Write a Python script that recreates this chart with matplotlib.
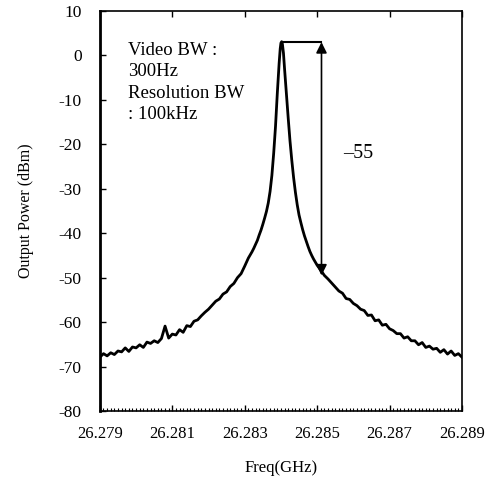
import matplotlib
import numpy as np
from matplotlib import pyplot as plt
from matplotlib.ticker import MultipleLocator, FormatStrFormatter

matplotlib.rc('font', family=['Liberation Serif', 'DejaVu Serif'], size=11)
plt.rcParams['axes.unicode_minus'] = False

# trace
# frequency offset in MHz from 26.279 GHz
offset_mhz = [
    0.0, 0.1, 0.2, 0.3, 0.4, 0.5, 0.6, 0.7, 0.8, 0.9,
    1.0, 1.1, 1.2, 1.3, 1.4, 1.5, 1.6, 1.7, 1.8, 1.9,
    2.0, 2.1, 2.2, 2.3, 2.4, 2.5, 2.6, 2.7, 2.8, 2.9,
    3.0, 3.1, 3.2, 3.3, 3.4, 3.5, 3.6, 3.7, 3.8, 3.9,
    4.0, 4.05, 4.1, 4.15, 4.2, 4.25, 4.3, 4.35, 4.4, 4.45,
    4.5, 4.55, 4.6, 4.65, 4.7, 4.75, 4.8, 4.85, 4.9, 4.95,
    4.98, 5.0, 5.02, 5.04, 5.07, 5.1, 5.15, 5.2, 5.25, 5.3,
    5.35, 5.4, 5.45, 5.5, 5.55, 5.6, 5.65, 5.7, 5.75, 5.8,
    5.85, 5.9, 5.95, 6.0, 6.1, 6.2, 6.3, 6.4, 6.5, 6.6,
    6.7, 6.8, 6.9, 7.0, 7.1, 7.2, 7.3, 7.4, 7.5, 7.6,
    7.7, 7.8, 7.9, 8.0, 8.1, 8.2, 8.3, 8.4, 8.5, 8.6,
    8.7, 8.8, 8.9, 9.0, 9.1, 9.2, 9.3, 9.4, 9.5, 9.6,
    9.7, 9.8, 9.9, 10.0,
]
power_dbm = [
    -67.9, -67.1, -67.6, -66.9, -67.3, -66.5, -66.7, -65.8, -66.6, -65.6,
    -65.8, -65.1, -65.7, -64.5, -64.8, -64.2, -64.6, -63.7, -60.9, -63.6,
    -62.7, -62.9, -61.7, -62.3, -60.8, -61.0, -59.8, -59.5, -58.6, -57.8,
    -57.1, -56.2, -55.3, -54.8, -53.7, -53.2, -52.0, -51.3, -50.0, -49.1,
    -47.4, -46.5, -45.6, -44.9, -44.2, -43.4, -42.5, -41.6, -40.4, -39.3,
    -38.0, -36.6, -35.1, -33.2, -30.6, -27.0, -22.0, -16.0, -8.5, -1.8,
    1.5, 2.8, 3.1, 2.6, 0.5, -3.0, -8.5, -14.0, -19.2, -23.6,
    -27.5, -30.8, -33.6, -35.9, -37.6, -39.2, -40.6, -41.8, -43.0, -44.1,
    -45.0, -45.8, -46.5, -47.2, -48.3, -49.5, -50.3, -51.2, -52.1, -53.0,
    -53.5, -54.7, -54.9, -55.8, -56.3, -57.1, -57.4, -58.5, -58.4, -59.7,
    -59.5, -60.7, -60.5, -61.5, -61.9, -62.6, -62.6, -63.6, -63.3, -64.2,
    -64.2, -65.1, -64.6, -65.7, -65.4, -66.1, -65.9, -66.8, -66.2, -67.2,
    -66.5, -67.5, -67.1, -67.9,
]

peak_freq = 26.28402
peak_level = 3.0
marker_freq = 26.28512
marker_level = -49.5
delta_label = "\u201355"
note_text = "Video BW :\n300Hz\nResolution BW\n: 100kHz"
freq_ticks = [26.279, 26.281, 26.283, 26.285, 26.287, 26.289]

freq_ghz = 26.279 + np.array(offset_mhz) / 1000.0

fig = plt.figure(figsize=(4.92, 4.79), dpi=100)
ax = fig.add_axes([0.203, 0.142, 0.736, 0.835])

ax.plot(freq_ghz, power_dbm, color='black', lw=2.0)

# peak marker: horizontal line then double arrow down to the skirt
ax.plot([peak_freq, marker_freq], [peak_level, peak_level], color='black', lw=1.5)
ax.annotate('', xy=(marker_freq, marker_level), xytext=(marker_freq, peak_level),
            arrowprops=dict(arrowstyle='<|-|>', color='black', lw=1.2,
                            mutation_scale=16, shrinkA=0, shrinkB=0))
ax.text(26.28573, -22, delta_label, fontsize=14.5, va='center', ha='left')
ax.text(26.27978, 3.0, note_text, fontsize=13.5, va='top', ha='left',
        linespacing=1.33)

ax.set_xlim(26.279, 26.289)
ax.set_ylim(-80, 10)
ax.set_xticks(freq_ticks)
ax.xaxis.set_minor_locator(MultipleLocator(0.0001))
ax.xaxis.set_major_formatter(FormatStrFormatter('%.3f'))
ax.yaxis.set_major_locator(MultipleLocator(10))

ax.tick_params(axis='both', which='major', direction='in', length=4, width=1,
               top=True, right=False)
ax.tick_params(axis='x', which='minor', direction='in', length=2, width=0.8,
               top=False)
ax.tick_params(axis='x', which='major', pad=11, labelsize=12)
ax.tick_params(axis='y', which='major', pad=13, labelsize=12.5)

for side in ['top', 'right', 'bottom']:
    ax.spines[side].set_linewidth(1.2)
ax.spines['left'].set_linewidth(2)

ax.set_xlabel('Freq(GHz)', fontsize=12, labelpad=13)
ax.set_ylabel('Output Power (dBm)', fontsize=11.5, labelpad=18)

fig.savefig('out.png', dpi=100)
